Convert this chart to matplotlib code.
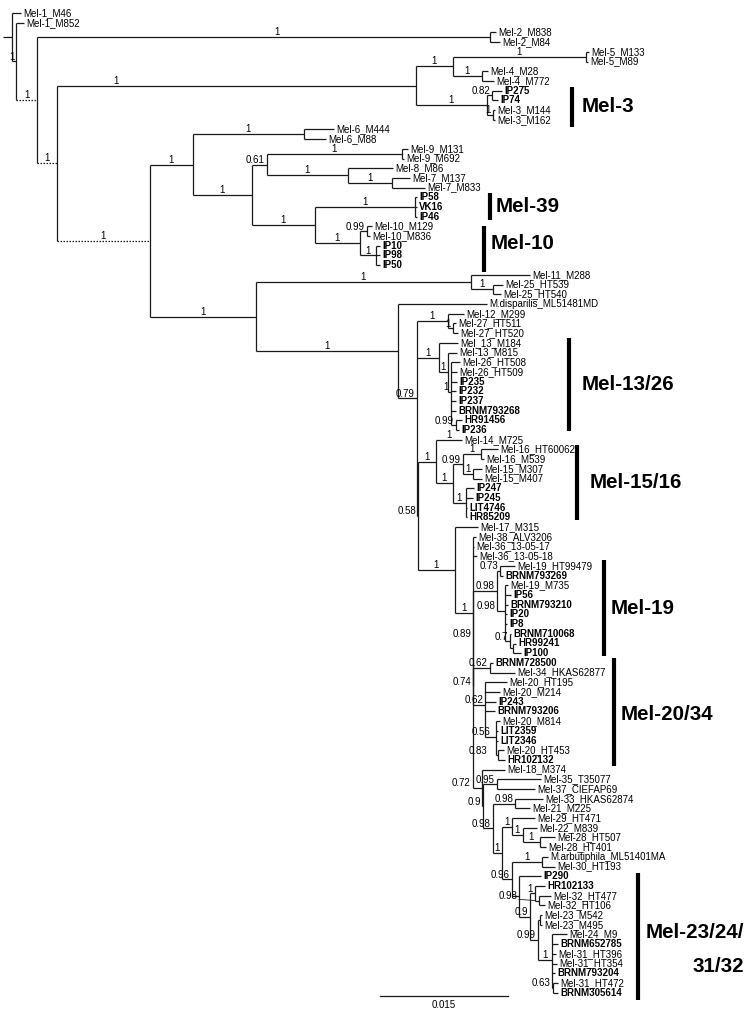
import matplotlib
matplotlib.use("Agg")
import matplotlib.pyplot as plt
from matplotlib.transforms import offset_copy

plt.rcParams["font.family"] = ["Liberation Sans", "DejaVu Sans"]

# child, parent, branch length (x 0.001 substitutions/site), support
edges_root = [
    ("A", "root", 1.11, ""),
    ("Mel-1_M46", "A", 1.00, ""),
    ("B", "A", 0.47, "1"),
    ("Mel-1_M852", "B", 0.88, ""),
    ("C", "B", 2.40, "1"),
]

edges_mel2_5 = [
    ("n_mel2", "C", 53.09, "1"),
    ("Mel-2_M838", "n_mel2", 0.70, ""),
    ("Mel-2_M84", "n_mel2", 1.17, ""),
    ("D", "C", 2.34, "1"),
    ("F", "D", 42.07, "1"),
    ("G", "F", 4.34, "1"),
    ("n_mel5", "G", 15.59, "1"),
    ("Mel-5_M133", "n_mel5", 0.35, ""),
    ("Mel-5_M89", "n_mel5", 0.23, ""),
    ("n_mel4", "G", 3.40, "1"),
    ("Mel-4_M28", "n_mel4", 0.70, ""),
    ("Mel-4_M772", "n_mel4", 1.41, ""),
    ("n_mel3", "F", 8.32, "1"),
    ("n_ip275", "n_mel3", 0.59, "0.82"),
    ("IP275", "n_ip275", 1.17, ""),
    ("IP74", "n_ip275", 0.70, ""),
    ("n_mel3b", "n_mel3", 0.70, "1"),
    ("Mel-3_M144", "n_mel3b", 0.23, ""),
    ("Mel-3_M162", "n_mel3b", 0.23, ""),
]

edges_mel6_10 = [
    ("E", "D", 10.90, "1"),
    ("H", "E", 5.04, "1"),
    ("n_mel6", "H", 13.01, "1"),
    ("Mel-6_M444", "n_mel6", 3.52, ""),
    ("Mel-6_M88", "n_mel6", 2.58, ""),
    ("I", "H", 6.91, "1"),
    ("J", "I", 1.76, "0.61"),
    ("n_mel9", "J", 15.82, "1"),
    ("Mel-9_M131", "n_mel9", 0.70, ""),
    ("Mel-9_M692", "n_mel9", 0.23, ""),
    ("K", "J", 9.49, "1"),
    ("Mel-8_M86", "K", 5.27, ""),
    ("n_mel7", "K", 5.16, "1"),
    ("Mel-7_M137", "n_mel7", 2.11, ""),
    ("Mel-7_M833", "n_mel7", 3.87, ""),
    ("M", "I", 7.38, "1"),
    ("n_mel39", "M", 11.72, "1"),
    ("IP58", "n_mel39", 0.23, ""),
    ("VK16", "n_mel39", 0.23, ""),
    ("IP46", "n_mel39", 0.23, ""),
    ("O", "M", 5.27, "1"),
    ("n_mel10", "O", 0.82, "0.99"),
    ("Mel-10_M129", "n_mel10", 0.59, ""),
    ("Mel-10_M836", "n_mel10", 0.35, ""),
    ("n_ip10", "O", 1.88, "1"),
    ("IP10", "n_ip10", 0.47, ""),
    ("IP98", "n_ip10", 0.47, ""),
    ("IP50", "n_ip10", 0.47, ""),
]

edges_mel11_27 = [
    ("P", "E", 12.42, "1"),
    ("Q", "P", 25.20, "1"),
    ("Mel-11_M288", "Q", 6.91, ""),
    ("n_mel25", "Q", 2.58, "1"),
    ("Mel-25_HT539", "n_mel25", 1.17, ""),
    ("Mel-25_HT540", "n_mel25", 0.94, ""),
    ("R", "P", 16.64, "1"),
    ("M.disparilis_ML51481MD", "R", 10.43, ""),
    ("S", "R", 2.23, "0.79"),
    ("n_mel12", "S", 3.63, "1"),
    ("Mel-12_M299", "n_mel12", 1.88, ""),
    ("n_mel27", "n_mel12", 0.59, "1"),
    ("Mel-27_HT511", "n_mel27", 0.35, ""),
    ("Mel-27_HT520", "n_mel27", 0.59, ""),
]

edges_mel13_26 = [
    ("n_mel13", "S", 2.58, "1"),
    ("Mel_13_M184", "n_mel13", 2.23, ""),
    ("n_mel13b", "n_mel13", 1.05, "1"),
    ("Mel-13_M815", "n_mel13b", 1.05, ""),
    ("n_mel26", "n_mel13b", 0.35, "1"),
    ("Mel-26_HT508", "n_mel26", 1.05, ""),
    ("Mel-26_HT509", "n_mel26", 0.70, ""),
    ("IP235", "n_mel26", 0.70, ""),
    ("IP232", "n_mel26", 0.59, ""),
    ("IP237", "n_mel26", 0.59, ""),
    ("BRNM793268", "n_mel26", 0.59, ""),
    ("n_hr91456", "n_mel26", 0.59, "0.99"),
    ("HR91456", "n_hr91456", 0.70, ""),
    ("IP236", "n_hr91456", 0.35, ""),
]

edges_mel14_16 = [
    ("T", "S", 0.12, "0.58"),
    ("V", "T", 2.11, "1"),
    ("Mel-14_M725", "V", 3.05, "1"),
    ("W", "V", 1.99, "1"),
    ("n_mel15_16", "W", 1.17, "0.99"),
    ("n_mel16", "n_mel15_16", 2.11, "1"),
    ("Mel-16_HT60062", "n_mel16", 1.99, ""),
    ("Mel-16_M539", "n_mel16", 0.35, ""),
    ("n_mel15", "n_mel15_16", 1.17, "1"),
    ("Mel-15_M307", "n_mel15", 1.05, ""),
    ("Mel-15_M407", "n_mel15", 1.05, ""),
    ("n_ip247", "W", 1.52, "1"),
    ("IP247", "n_ip247", 0.94, ""),
    ("IP245", "n_ip247", 0.82, ""),
    ("LIT4746", "n_ip247", 0.12, ""),
    ("HR85209", "n_ip247", 0.12, ""),
]

edges_mel19 = [
    ("X", "T", 4.34, "1"),
    ("Mel-17_M315", "X", 2.70, ""),
    ("Z1", "X", 2.11, "1"),
    ("Mel-38_ALV3206", "Z1", 0.35, ""),
    ("Mel-36_13-05-17", "Z1", 0.12, ""),
    ("Mel-36_13-05-18", "Z1", 0.47, ""),
    ("Z2", "Z1", 0.0, "0.89"),
    ("n_mel19", "Z2", 2.81, "0.98"),
    ("n_hr99479", "n_mel19", 0.35, "0.73"),
    ("Mel-19_HT99479", "n_hr99479", 1.76, ""),
    ("BRNM793269", "n_hr99479", 0.35, ""),
    ("n_mel19b", "n_mel19", 0.94, "0.98"),
    ("Mel-19_M735", "n_mel19b", 0.35, ""),
    ("IP56", "n_mel19b", 0.70, ""),
    ("BRNM793210", "n_mel19b", 0.35, ""),
    ("IP20", "n_mel19b", 0.23, ""),
    ("IP8", "n_mel19b", 0.23, ""),
    ("n_brnm710068", "n_mel19b", 0.59, "0.7"),
    ("BRNM710068", "n_brnm710068", 0.12, ""),
    ("n_hr99241", "n_brnm710068", 0.35, ""),
    ("HR99241", "n_hr99241", 0.35, ""),
    ("IP100", "n_hr99241", 0.94, ""),
]

edges_mel20_34 = [
    ("Z3", "Z2", 0.0, "0.74"),
    ("n_mel34", "Z3", 1.99, "0.62"),
    ("BRNM728500", "n_mel34", 0.35, ""),
    ("Mel-34_HKAS62877", "n_mel34", 2.93, ""),
    ("n_mel20", "Z3", 1.41, "0.62"),
    ("Mel-20_HT195", "n_mel20", 2.58, ""),
    ("Mel-20_M214", "n_mel20", 1.76, ""),
    ("IP243", "n_mel20", 1.29, ""),
    ("BRNM793206", "n_mel20", 1.17, ""),
    ("n_mel20b", "n_mel20", 1.29, "0.56"),
    ("Mel-20_M814", "n_mel20b", 0.47, ""),
    ("LIT2359", "n_mel20b", 0.23, ""),
    ("LIT2346", "n_mel20b", 0.23, ""),
    ("n_hr102132", "n_mel20b", 0.23, "0.83"),
    ("Mel-20_HT453", "n_hr102132", 0.70, ""),
    ("HR102132", "n_hr102132", 0.82, ""),
]

edges_mel18_30 = [
    ("Z4", "Z1", 1.05, "0.72"),
    ("Mel-18_M374", "Z4", 2.70, ""),
    ("Z5", "Z4", 0.12, "0.9"),
    ("n_mel35", "Z5", 1.64, "0.95"),
    ("Mel-35_T35077", "n_mel35", 5.16, ""),
    ("Mel-37_CIEFAP69", "n_mel35", 4.45, ""),
    ("Z6", "Z5", 1.17, "0.98"),
    ("n_mel33", "Z6", 2.58, "0.98"),
    ("Mel-33_HKAS62874", "n_mel33", 3.28, ""),
    ("Mel-21_M225", "n_mel33", 1.76, ""),
    ("Z7", "Z6", 1.05, "1"),
    ("n_mel29", "Z7", 1.17, "1"),
    ("Mel-29_HT471", "n_mel29", 2.70, ""),
    ("n_mel22", "n_mel29", 1.29, "1"),
    ("Mel-22_M839", "n_mel22", 1.64, ""),
    ("n_mel28", "n_mel22", 1.99, "1"),
    ("Mel-28_HT507", "n_mel28", 1.76, ""),
    ("Mel-28_HT401", "n_mel28", 0.70, ""),
    ("Z8", "Z7", 1.17, "0.96"),
    ("n_arb", "Z8", 3.52, "1"),
    ("M.arbutiphila_ML51401MA", "n_arb", 0.70, ""),
    ("Mel-30_HT193", "n_arb", 1.52, ""),
]

edges_mel23_32 = [
    ("n_mel23", "Z8", 0.82, ""),
    ("IP290", "n_mel23", 2.58, ""),
    ("n_90", "n_mel23", 1.29, "0.9"),
    ("n_hr102133", "n_90", 0.59, "1"),
    ("HR102133", "n_hr102133", 1.17, ""),
    ("n_mel32", "n_hr102133", 0.47, "0.98"),
    ("Mel-32_HT477", "n_mel32", 1.41, ""),
    ("Mel-32_HT106", "n_mel32", 0.70, ""),
    ("n_99", "n_90", 0.94, "0.99"),
    ("n_mel23b", "n_99", 0.23, ""),
    ("Mel-23_M542", "n_mel23b", 0.23, ""),
    ("Mel-23_M495", "n_mel23b", 0.23, ""),
    ("n_mel24", "n_99", 1.64, "1"),
    ("Mel-24_M9", "n_mel24", 1.76, ""),
    ("BRNM652785", "n_mel24", 0.70, ""),
    ("Mel-31_HT396", "n_mel24", 0.47, ""),
    ("Mel-31_HT354", "n_mel24", 0.59, ""),
    ("BRNM793204", "n_mel24", 0.35, ""),
    ("n_63", "n_mel24", 0.12, "0.63"),
    ("Mel-31_HT472", "n_63", 0.59, ""),
    ("BRNM305614", "n_63", 0.59, ""),
]

dashed_edges = ["C", "D", "E"]
bold_prefixes = ("IP", "VK", "BRNM", "HR", "LIT")

clade_names = ["Mel-3", "Mel-39", "Mel-10", "Mel-13/26", "Mel-15/16",
               "Mel-19", "Mel-20/34", "Mel-23/24/\n31/32"]
clade_top = [7.6, 18.6, 22.0, 33.5, 44.5, 56.4, 66.5, 88.7]
clade_bottom = [11.75, 21.35, 26.7, 43.1, 52.3, 66.3, 77.6, 101.75]
clade_bar_x = [66.69, 57.02, 56.31, 66.34, 67.27, 70.44, 71.61, 74.36]
clade_label_dy = [0, 0, -0.6, 0, 0, 0, 0.25, 1.3]
clade_label_gap = [10, 6, 7, 13, 13, 7, 7, 8]   # pixels from bar to name

scale_length = 15.0
scale_label = "0.015"

# hand placement of a few support labels (pixels left of the node / x in tree units)
label_shift_px = {"Z4": -12, "n_hr102132": -11, "n_mel20b": -6,
                  "n_mel19b": -10, "n_mel32": -21}
label_center_x = {"F": 13.24, "n_mel2": 32.11}
leader_nodes = ["n_mel32"]

# ---------------------------------------------------------------
edges = (edges_root + edges_mel2_5 + edges_mel6_10 + edges_mel11_27 +
         edges_mel13_26 + edges_mel14_16 + edges_mel19 + edges_mel20_34 +
         edges_mel18_30 + edges_mel23_32)

children = {}
length = {}
for c, p, bl, s in edges:
    children.setdefault(p, []).append(c)
    length[c] = bl

xpos = {"root": 0.0}
ypos = {}
leaves = []


def layout(node):
    for ch in children.get(node, []):
        xpos[ch] = xpos[node] + length[ch]
        layout(ch)
    if node in children:
        ys = [ypos[ch] for ch in children[node]]
        ypos[node] = sum(ys) / len(ys)
    else:
        ypos[node] = len(leaves)
        leaves.append(node)


layout("root")

PX = 0.015 * 1000 / 128   # tree units per pixel
fig = plt.figure(figsize=(7.56, 10.17), dpi=100)
ax = fig.add_axes([0, 0, 1, 1])
ax.axis("off")
ax.set_xlim(-3 * PX, 753 * PX)
ax.set_ylim((1017 - 13) / 9.7, -13 / 9.7)

lc = "#1a1a1a"
lw = 0.9


def off(dx, dy):
    return offset_copy(ax.transData, fig=fig, x=dx, y=dy, units="dots")


for node, kids in children.items():
    if len(kids) > 1:
        ys = [ypos[k] for k in kids]
        ax.plot([xpos[node]] * 2, [min(ys), max(ys)], color=lc, lw=lw,
                solid_capstyle="butt")
    for k in kids:
        ls = (0, (1.2, 1.2)) if k in dashed_edges else "-"
        ax.plot([xpos[node], xpos[k]], [ypos[k]] * 2, color=lc, lw=lw,
                linestyle=ls, solid_capstyle="butt")

for leaf in leaves:
    bold = leaf.startswith(bold_prefixes)
    ax.text(xpos[leaf], ypos[leaf], leaf, fontsize=7,
            fontweight="bold" if bold else "normal",
            ha="left", va="center", transform=off(2.5, 0))

for c, p, bl, s in edges:
    if not s:
        continue
    w = 9.7 * (0.556 * sum(ch.isdigit() for ch in s) + 0.278 * s.count("."))
    if c in label_center_x or bl / PX >= w + 3:
        cx = label_center_x.get(c, (xpos[p] + xpos[c]) / 2)
        ax.text(cx, ypos[c], s, fontsize=7,
                ha="center", va="baseline", transform=off(0, 2))
    else:
        dx = label_shift_px.get(c, -2)
        ax.text(xpos[c], ypos[c], s, fontsize=7, ha="right",
                va="baseline", transform=off(dx, 1.5))
        if c in leader_nodes:
            ax.plot([xpos[c] + (dx + 1) * PX, xpos[p]],
                    [ypos[c] - 0.12, ypos[c]], color=lc, lw=0.6)

for name, y0, y1, bx, dy, gap in zip(clade_names, clade_top, clade_bottom,
                                     clade_bar_x, clade_label_dy,
                                     clade_label_gap):
    ax.plot([bx, bx], [y0, y1], color="black", lw=3, solid_capstyle="butt")
    ax.text(bx, (y0 + y1) / 2 + dy, name, fontsize=14.8, fontweight="bold",
            ha="left", va="center", multialignment="right",
            linespacing=2.0, transform=off(gap, 0))

sb_x0 = 377 * PX
sb_y = (996 - 13) / 9.7
ax.plot([sb_x0, sb_x0 + scale_length], [sb_y, sb_y], color=lc, lw=lw)
ax.text(sb_x0 + scale_length / 2, sb_y + 0.9, scale_label, fontsize=7,
        ha="center", va="center")

fig.savefig("out.png", dpi=100)
